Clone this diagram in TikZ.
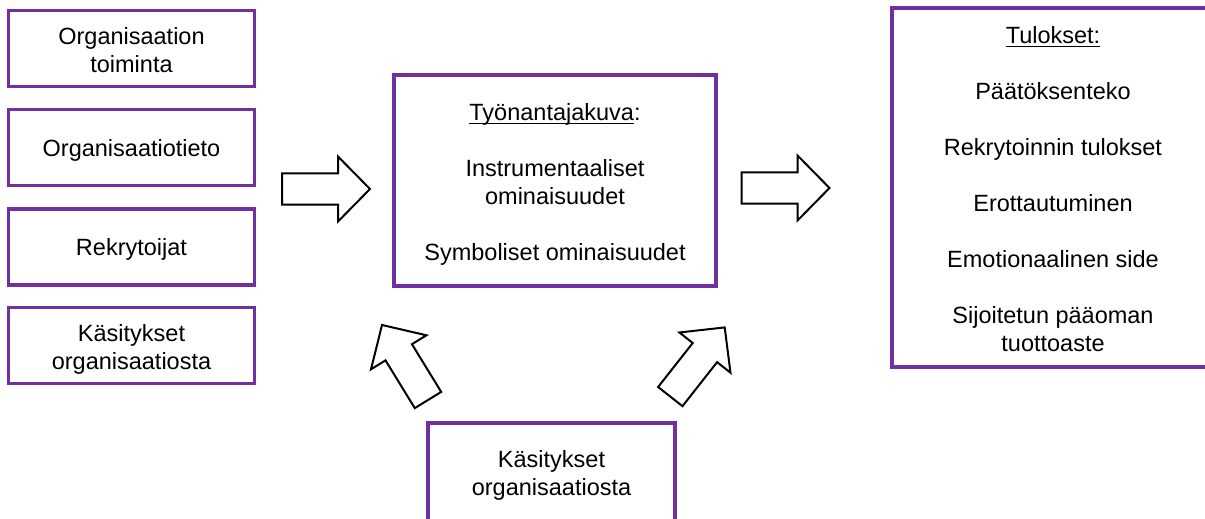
\documentclass[tikz,border=0pt]{standalone}
\usepackage{fontspec}
\setmainfont{Liberation Sans}
\usepackage{tikz}
\usetikzlibrary{positioning}
\definecolor{BoxPurple}{HTML}{7030A0}
\newcommand{\uln}[1]{\underline{\smash{#1}}}
\newcommand{\rivit}[1]{\begin{tabular}{@{}c@{}}\rule{0pt}{13.8pt}#1\end{tabular}}
\tikzset{
  % laatikot
  box/.style={draw=BoxPurple,line width=1.65pt,fill=white,
    inner sep=2pt,font=\fontsize{11.75}{14}\selectfont},
  side box/.style={box,minimum width=123pt,minimum height=38pt},
  one line/.style={text depth=0pt},
  % nuolet
  arrowline/.style={draw=black,line width=1pt,fill=white,line join=miter},
  pics/bigarrow/.style={code={
    \draw[arrowline] (-44,-15.5) -- (12,-15.5) -- (12,-32.5) -- (44,0)
      -- (12,32.5) -- (12,15.5) -- (-44,15.5) -- cycle;
  }}
}
\begin{document}
\begin{tikzpicture}[x=0.5pt,y=-0.5pt]
    \useasboundingbox (0,0) rectangle (1205,519);
    \clip (0,0) rectangle (1205,519);
    \node[side box] (toiminta) at (131.5,48.5) {\rivit{Organisaation\\toiminta}};
    \node[side box,one line] (tieto) at (131.5,147.5) {Organisaatiotieto};
    \node[side box,one line] (rekrytoijat) at (131.5,247) {Rekrytoijat};
    \node[side box] (kasitykset) at (131.5,345.5) {\rivit{Käsitykset\\organisaatiosta}};
    \node[box,minimum width=161pt,minimum height=105.5pt] (kuva) at (555,180.5)
      {\rivit{\uln{Työnantajakuva}:\\[14pt]Instrumentaaliset\\ominaisuudet\\[14pt]Symboliset ominaisuudet}};
    \node[box,minimum width=161pt,minimum height=179.5pt] (tulokset) at (1053,187.5)
      {\rivit{\uln{Tulokset:}\\[14pt]Päätöksenteko\\[14pt]Rekrytoinnin tulokset\\[14pt]Erottautuminen\\[14pt]Emotionaalinen side\\[14pt]Sijoitetun pääoman\\tuottoaste}};
    \node[box,minimum width=123.5pt,minimum height=49pt] (alakasitykset) at (551.5,472)
      {\rivit{Käsitykset\\organisaatiosta}};
    % lohkonuolet
    \pic at (326,189) {bigarrow};
    \pic at (785.5,188) {bigarrow};
    \pic[rotate=121.5] at (405,362.5) {bigarrow};
    \pic[rotate=51.8] at (697.5,362) {bigarrow};
  \end{tikzpicture}
\end{document}
